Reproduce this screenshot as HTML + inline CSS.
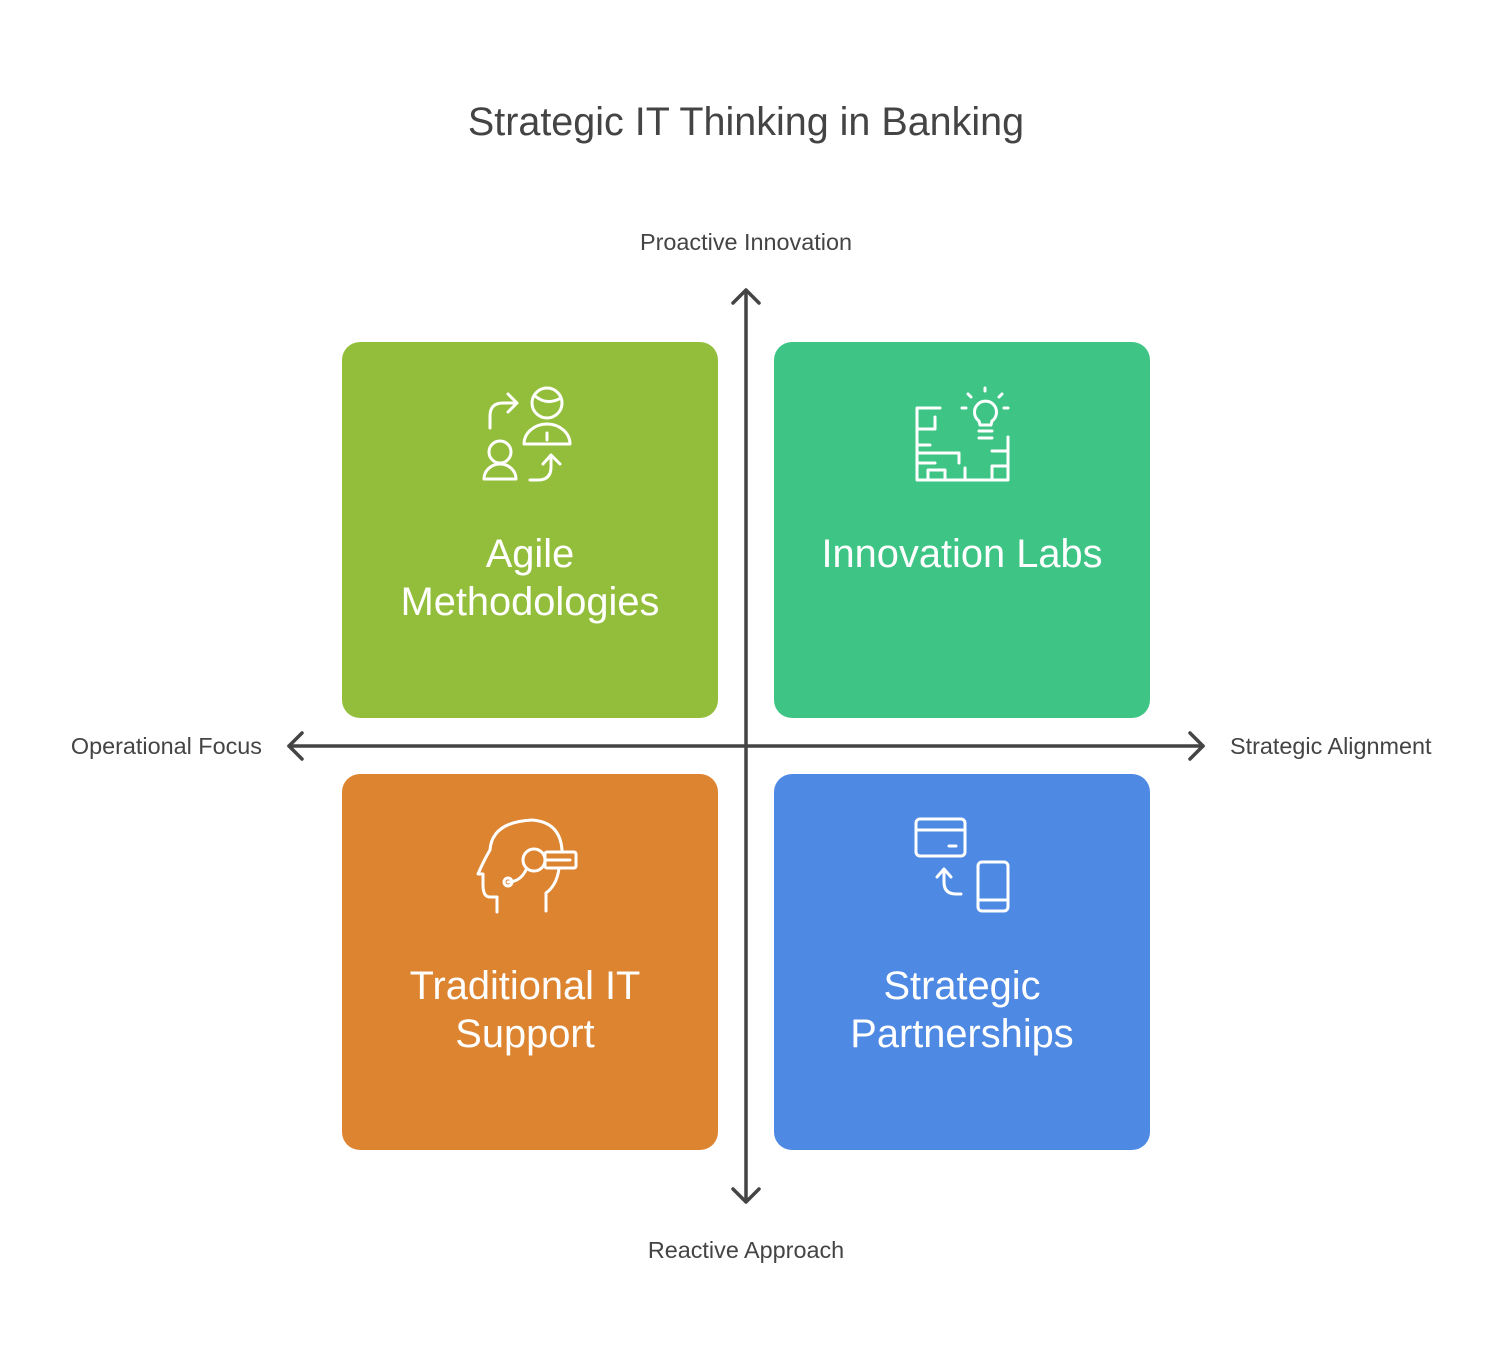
<!DOCTYPE html>
<html><head><meta charset="utf-8">
<style>
html,body{margin:0;padding:0;background:#fff;}
svg{display:block;}
text{font-family:"Liberation Sans",sans-serif;}
</style></head>
<body>
<svg id="chart" width="1492" height="1372" viewBox="0 0 1492 1372" xmlns="http://www.w3.org/2000/svg">
<rect width="1492" height="1372" fill="#fff"/>
<text x="746" y="135" text-anchor="middle" font-size="39.5" fill="#444">Strategic IT Thinking in Banking</text>
<g id="boxes"></g>
<g stroke="#444" stroke-width="3.5" fill="none" stroke-linecap="round" stroke-linejoin="round">
  <line x1="746" y1="291" x2="746" y2="1201"/>
  <line x1="289" y1="746" x2="1203" y2="746"/>
  <polyline points="733,303 746,290 759,303"/>
  <polyline points="733,1189 746,1202 759,1189"/>
  <polyline points="302,733 289,746 302,759"/>
  <polyline points="1190,733 1203,746 1190,759"/>
</g>
<g font-size="23.4" fill="#444">
  <text x="746" y="250" text-anchor="middle">Proactive Innovation</text>
  <text x="746" y="1258" text-anchor="middle">Reactive Approach</text>
  <text x="262" y="754" text-anchor="end">Operational Focus</text>
  <text x="1230" y="754" text-anchor="start">Strategic Alignment</text>
</g>
<g stroke="#fff" stroke-width="3" fill="none" stroke-linecap="round" stroke-linejoin="round">
  <g>
    <path d="M490,428 V416 Q490,403 503,403 H517"/>
    <polyline points="508,394 517,403 508,412"/>
    <circle cx="547" cy="403" r="15"/>
    <path d="M535,396 Q547,406 561,398"/>
    <path d="M524,444 A23,20 0 0 1 570,444 Z"/>
    <line x1="547" y1="433" x2="547" y2="440"/>
    <circle cx="500" cy="452" r="11"/>
    <path d="M484,479 A16,15 0 0 1 516,479 Z"/>
    <path d="M530,480 H538 Q551,480 551,467 V456"/>
    <polyline points="543,464 551,455 560,464"/>
  </g>
  <g>
    <path d="M940,408 H917 V480 H1008 V437"/>
    <path d="M917,429 H935 V417"/>
    <path d="M917,445 H930"/>
    <path d="M917,453 H959 V463"/>
    <path d="M917,463 H935"/>
    <path d="M928,480 V470 H945 V480"/>
    <path d="M965,480 V468"/>
    <path d="M992,480 V466 H1008"/>
    <path d="M992,451 H1008"/>
    <path d="M979,421 A11,11 0 1 1 992,421 L991,425 H980 Z"/>
    <line x1="979" y1="431" x2="992" y2="431"/>
    <line x1="979" y1="438" x2="992" y2="438"/>
    <line x1="985" y1="388" x2="985" y2="391"/>
    <line x1="968" y1="394" x2="971" y2="397"/>
    <line x1="1002" y1="394" x2="999" y2="397"/>
    <line x1="962" y1="408" x2="966" y2="408"/>
    <line x1="1004" y1="408" x2="1008" y2="408"/>
  </g>
  <g>
    <path d="M497,912 V897 H490 Q483,897 483,885 V874 H478 Q484,860 490,850 Q492,822 532,820 Q560,822 562,850"/>
    <circle cx="534" cy="860" r="11"/>
    <rect x="545" y="852" width="31" height="16" rx="2"/>
    <line x1="545" y1="860" x2="570" y2="860"/>
    <path d="M526,870 Q520,882 508,882"/>
    <circle cx="508" cy="882" r="4"/>
    <path d="M559,868 Q557,885 546,893 V911"/>
  </g>
  <g>
    <rect x="916" y="819" width="49" height="37" rx="4"/>
    <line x1="916" y1="830" x2="965" y2="830"/>
    <line x1="949" y1="846" x2="956" y2="846"/>
    <rect x="978" y="862" width="30" height="49" rx="4"/>
    <line x1="978" y1="900" x2="1008" y2="900"/>
    <path d="M961,894 H956 Q944,894 944,882 V870"/>
    <polyline points="937,877 944,869 951,877"/>
  </g>
</g>
<script>
const quadrantNames = ["agile", "innovation", "support", "partnerships"];
const quadrantLines = [["Agile", "Methodologies"], ["Innovation Labs"], ["Traditional IT", "Support"], ["Strategic", "Partnerships"]];
const quadrantColors = ["#93BE3B", "#3EC585", "#DD8431", "#4E89E4"];
const quadrantCol = [0, 1, 0, 1];
const quadrantRow = [0, 0, 1, 1];

const NS = "http://www.w3.org/2000/svg";
const g = document.getElementById("boxes");
const x0 = 342, y0 = 342, size = 376, gap = 56;
quadrantNames.forEach((n, i) => {
  const x = x0 + quadrantCol[i] * (size + gap);
  const y = y0 + quadrantRow[i] * (size + gap);
  const r = document.createElementNS(NS, "rect");
  r.setAttribute("x", x); r.setAttribute("y", y);
  r.setAttribute("width", size); r.setAttribute("height", size);
  r.setAttribute("rx", 18); r.setAttribute("fill", quadrantColors[i]);
  
  
  g.appendChild(r);
  const lines = quadrantLines[i];
  lines.forEach((ln, j) => {
    const t = document.createElementNS(NS, "text");
    t.setAttribute("x", x + size / 2 + (n === "support" ? -5 : 0));
    t.setAttribute("y", y + 225 + j * 48);
    t.setAttribute("text-anchor", "middle");
    t.setAttribute("font-size", "39.8");
    t.setAttribute("fill", "#fff");
    t.textContent = ln;
    
    
    g.appendChild(t);
  });
});
</script>
</svg>
</body></html>
